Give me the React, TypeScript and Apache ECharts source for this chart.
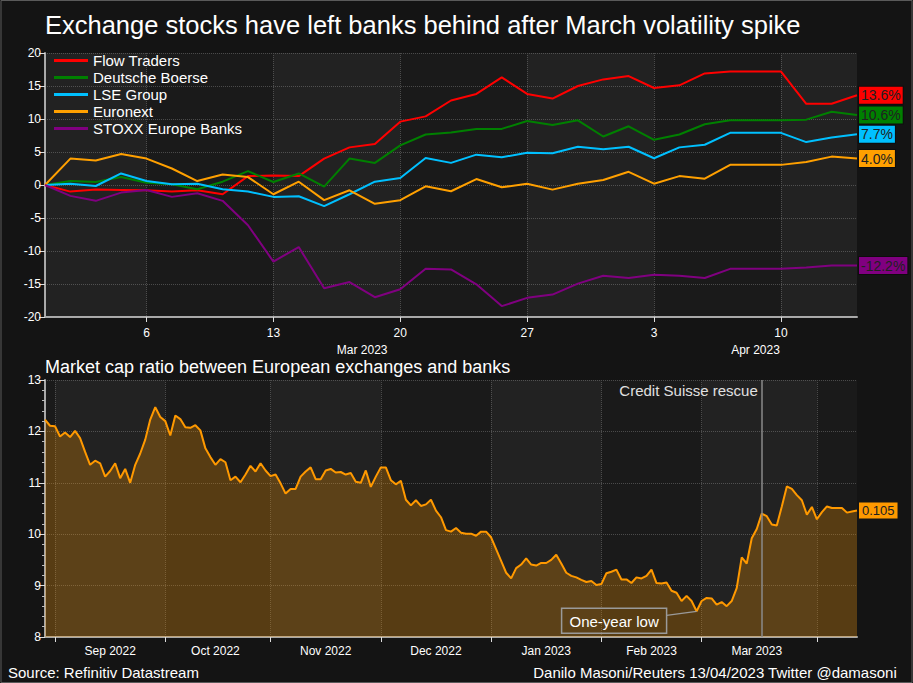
import React, { useEffect, useRef } from "react";
import * as echarts from "echarts";

const FONT = "'Liberation Sans', Arial, Helvetica, sans-serif";

function weekdays(start: string, end: string): string[] {
  const out: string[] = [];
  const d = new Date(start + "T00:00:00Z");
  const e = new Date(end + "T00:00:00Z");
  while (d <= e) {
    const wd = d.getUTCDay();
    if (wd !== 0 && wd !== 6) out.push(d.toISOString().slice(0, 10));
    d.setUTCDate(d.getUTCDate() + 1);
  }
  return out;
}

// ---------- top chart: % change since 28 Feb 2023 ----------
const topDates = weekdays("2023-02-28", "2023-04-13");
const seriesNames = ["Flow Traders", "Deutsche Boerse", "LSE Group", "Euronext", "STOXX Europe Banks"];
const seriesColors = ["#ff0000", "#008000", "#00c0ff", "#ffa000", "#800080"];
const flowTraders = [0, -1.0, -0.7, -0.75, -0.8, -1.0, -0.8, -1.4, 1.35, 1.45, 1.35, 4.0, 5.7, 6.2, 9.6, 10.4, 12.8, 13.8, 16.3, 13.8, 13.1, 15.0, 16.0, 16.5, 14.7, 15.1, 16.9, 17.2, 17.2, 17.2, 12.3, 12.3, 13.6];
const deutscheBoerse = [0, 0.6, 0.45, 1.2, 0.35, 0.1, -0.65, 0.5, 2.1, 0.45, 1.75, -0.25, 4.0, 3.35, 6.0, 7.65, 7.95, 8.5, 8.5, 9.7, 9.1, 9.8, 7.35, 8.9, 6.85, 7.65, 9.2, 9.8, 9.8, 9.8, 9.9, 11.1, 10.6];
const lseGroup = [0, 0.2, -0.15, 1.75, 0.6, 0.1, 0.2, -0.65, -1.0, -1.8, -1.7, -3.2, -1.4, 0.5, 1.05, 4.1, 3.35, 4.6, 4.2, 4.9, 4.8, 5.8, 5.4, 5.8, 4.05, 5.7, 6.1, 7.9, 7.9, 7.9, 6.5, 7.2, 7.7];
const euronext = [0, 4.0, 3.7, 4.7, 4.0, 2.5, 0.6, 1.6, 1.2, -1.4, 0.5, -2.3, -0.8, -2.85, -2.3, -0.2, -0.95, 0.9, -0.35, 0.2, -0.7, 0.2, 0.75, 2.0, 0.2, 1.35, 0.95, 3.05, 3.05, 3.05, 3.5, 4.3, 4.0];
const stoxxBanks = [0, -1.65, -2.4, -1.15, -0.75, -1.8, -1.25, -2.4, -6.1, -11.6, -9.4, -15.65, -14.7, -17.0, -15.8, -12.7, -12.8, -15.05, -18.35, -17.1, -16.6, -14.95, -13.75, -14.1, -13.6, -13.75, -14.1, -12.7, -12.7, -12.7, -12.5, -12.2, -12.2];
const seriesValues = [flowTraders, deutscheBoerse, lseGroup, euronext, stoxxBanks];
const topMonthLabels = [{ text: "Mar 2023", at: 12.5 }, { text: "Apr 2023", at: 28 }];

// ---------- bottom chart: market cap ratio ----------
const ratioDates = weekdays("2022-08-30", "2023-04-13");
const ratio = [
  12.23, 12.11, 12.1, 11.9, 11.98, 11.89, 12.01, 11.87, 11.6, 11.35,
  11.43, 11.38, 11.12, 11.23, 11.38, 11.09, 11.27, 11.0, 11.35, 11.57,
  11.84, 12.23, 12.47, 12.28, 12.2, 11.92, 12.31, 12.24, 12.08, 12.07,
  12.12, 12.02, 11.67, 11.5, 11.35, 11.46, 11.4, 11.05, 11.12, 11.01,
  11.16, 11.33, 11.22, 11.38, 11.24, 11.13, 11.16, 10.99, 10.79, 10.88,
  10.88, 11.12, 11.22, 11.3, 11.07, 11.07, 11.24, 11.27, 11.2, 11.21,
  11.16, 11.19, 11.02, 11.0, 11.24, 10.92, 11.12, 11.3, 11.3, 11.05,
  10.97, 11.04, 10.67, 10.56, 10.66, 10.55, 10.58, 10.67, 10.46, 10.33,
  10.08, 10.05, 10.12, 10.03, 10.01, 10.01, 9.97, 10.05, 10.05, 9.94,
  9.71, 9.48, 9.25, 9.14, 9.34, 9.41, 9.53, 9.41, 9.39, 9.44,
  9.44, 9.5, 9.6, 9.43, 9.25, 9.19, 9.16, 9.11, 9.07, 9.09,
  9.01, 9.03, 9.24, 9.27, 9.31, 9.12, 9.12, 9.05, 9.16, 9.14,
  9.19, 9.31, 9.05, 9.04, 9.06, 8.9, 8.86, 8.7, 8.8, 8.7,
  8.5, 8.7, 8.76, 8.75, 8.63, 8.68, 8.6, 8.7, 8.95, 9.55,
  9.43, 9.92, 10.1, 10.4, 10.35, 10.19, 10.17, 10.54, 10.93, 10.88,
  10.76, 10.66, 10.38, 10.53, 10.29, 10.43, 10.54, 10.51, 10.51, 10.51,
  10.42, 10.44, 10.46,
];
const creditSuisseDate = "2023-03-17";
const oneYearLowDate = "2023-02-28";

const MON = ["Jan", "Feb", "Mar", "Apr", "May", "Jun", "Jul", "Aug", "Sep", "Oct", "Nov", "Dec"];

const isMonday = (v: string) => new Date(v + "T00:00:00Z").getUTCDay() === 1;

// month boundaries on the bottom axis
const monthStarts: number[] = [];
ratioDates.forEach((d, i) => {
  if (i > 0 && d.slice(0, 7) !== ratioDates[i - 1].slice(0, 7)) monthStarts.push(i);
});
const monthStartSet = new Set(monthStarts);
const monthMidSet = new Set<number>();
for (let k = 0; k < monthStarts.length - 1; k++) {
  monthMidSet.add(Math.round((monthStarts[k] + monthStarts[k + 1] - 1) / 2));
}

const GRID_LINE = { color: "#4a4a4a", type: "dotted" as const, width: 1 };
const AXIS_LINE = { color: "#a8a8a8", width: 2 };
const LABEL = { color: "#ffffff", fontSize: 12, fontFamily: FONT };

export default function App() {
  const ref = useRef<HTMLDivElement>(null);

  useEffect(() => {
    document.body.style.margin = "0";
    if (!ref.current) return;
    const chart = echarts.init(ref.current, undefined, { renderer: "svg" });

    const topBands: any[] = [];
    const mondays = topDates.map((d, i) => (isMonday(d) ? i : -1)).filter((i) => i >= 0);
    const topEdges = [0, ...mondays, topDates.length - 1];
    for (let k = 0; k < topEdges.length - 1; k += 2) {
      topBands.push([{ xAxis: topDates[topEdges[k]] }, { xAxis: topDates[topEdges[k + 1]] }]);
    }
    const botBands: any[] = [];
    const botEdges = [...monthStarts, ratioDates.length - 1];
    for (let k = 0; k < botEdges.length - 1; k += 2) {
      botBands.push([{ xAxis: ratioDates[botEdges[k]] }, { xAxis: ratioDates[botEdges[k + 1]] }]);
    }

    const topSeries = seriesNames.map((name, s) => ({
      name,
      type: "line",
      xAxisIndex: 0,
      yAxisIndex: 0,
      data: seriesValues[s],
      symbol: "none",
      z: 3 + s,
      lineStyle: { color: seriesColors[s], width: 2 },
      itemStyle: { color: seriesColors[s] },
      endLabel: {
        show: true,
        formatter: (p: any) => {
          const v = Array.isArray(p.value) ? p.value[1] : p.value;
          return v.toFixed(1) + "%";
        },
        color: "#202020",
        backgroundColor: seriesColors[s],
        borderColor: "rgba(0,0,0,0.35)",
        borderWidth: 1,
        padding: [2, 2, 1, 2],
        fontSize: 14,
        fontFamily: FONT,
        distance: 2,
      },
      ...(s === 0
        ? {
            markArea: {
              silent: true,
              itemStyle: { color: "rgba(255,255,255,0.04)" },
              data: topBands,
            },
          }
        : {}),
    }));

    const option: any = {
      animation: false,
      backgroundColor: "#141414",
      textStyle: { fontFamily: FONT },
      title: [
        {
          text: "Exchange stocks have left banks behind after March volatility spike",
          left: 45,
          top: 12,
          padding: 0,
          textStyle: { color: "#ffffff", fontSize: 25.5, fontWeight: "normal", fontFamily: FONT },
        },
        {
          text: "Market cap ratio between European exchanges and banks",
          left: 45,
          top: 358,
          padding: 0,
          textStyle: { color: "#ffffff", fontSize: 18, fontWeight: "normal", fontFamily: FONT },
        },
      ],
      legend: {
        orient: "vertical",
        left: 54,
        top: 53,
        padding: 0,
        itemGap: 2,
        itemWidth: 34,
        itemHeight: 3,
        icon: "rect",
        selectedMode: false,
        data: seriesNames,
        textStyle: { color: "#ffffff", fontSize: 15, fontFamily: FONT },
      },
      grid: [
        { left: 45, right: 56, top: 53, bottom: 366, show: true, backgroundColor: "#1a1a1a", borderWidth: 0 },
        { left: 45, right: 56, top: 380, bottom: 46, show: true, backgroundColor: "#1a1a1a", borderWidth: 0 },
      ],
      xAxis: [
        {
          type: "category",
          gridIndex: 0,
          data: topDates,
          boundaryGap: false,
          axisLine: { onZero: false, lineStyle: AXIS_LINE },
          axisTick: { interval: (_i: number, v: string) => isMonday(v), length: 5, lineStyle: { color: "#dddddd" } },
          axisLabel: {
            ...LABEL,
            margin: 10,
            interval: (_i: number, v: string) => isMonday(v),
            formatter: (v: string) => String(parseInt(v.slice(8), 10)),
          },
          splitLine: { show: true, interval: (_i: number, v: string) => isMonday(v), lineStyle: GRID_LINE },
        },
        {
          type: "category",
          gridIndex: 1,
          data: ratioDates,
          boundaryGap: false,
          axisLine: { onZero: false, lineStyle: AXIS_LINE },
          axisTick: { interval: (i: number) => monthStartSet.has(i), length: 5, lineStyle: { color: "#dddddd" } },
          axisLabel: {
            ...LABEL,
            margin: 8,
            interval: (i: number) => monthMidSet.has(i),
            formatter: (v: string) => MON[parseInt(v.slice(5, 7), 10) - 1] + " " + v.slice(0, 4),
          },
          splitLine: { show: true, interval: (i: number) => monthStartSet.has(i), lineStyle: GRID_LINE },
        },
      ],
      yAxis: [
        {
          type: "value",
          gridIndex: 0,
          min: -20,
          max: 20,
          interval: 5,
          axisLine: { show: true, onZero: false, lineStyle: AXIS_LINE },
          axisTick: { show: true, length: 6, lineStyle: { color: "#dddddd" } },
          axisLabel: { ...LABEL, margin: 4 },
          splitLine: { show: true, lineStyle: GRID_LINE },
        },
        {
          type: "value",
          gridIndex: 1,
          min: 8,
          max: 13,
          interval: 1,
          axisLine: { show: true, onZero: false, lineStyle: AXIS_LINE },
          axisTick: { show: true, length: 6, lineStyle: { color: "#dddddd" } },
          minorTick: { show: true, splitNumber: 5, length: 3, lineStyle: { color: "#bbbbbb" } },
          axisLabel: { ...LABEL, margin: 4 },
          splitLine: { show: true, lineStyle: GRID_LINE },
        },
      ],
      series: [
        ...topSeries,
        {
          name: "Market cap ratio",
          type: "line",
          xAxisIndex: 1,
          yAxisIndex: 1,
          data: ratio,
          symbol: "none",
          z: 3,
          lineStyle: { color: "#ff9900", width: 2 },
          itemStyle: { color: "#ff9900" },
          areaStyle: { color: "rgba(255,153,0,0.38)" },
          endLabel: {
            show: true,
            formatter: (p: any) => {
              const v = Array.isArray(p.value) ? p.value[1] : p.value;
              return (v / 100).toFixed(3);
            },
            color: "#202020",
            backgroundColor: "#ff9900",
            padding: [2, 3, 1, 3],
            fontSize: 13,
            fontFamily: FONT,
            distance: 2,
          },
          markArea: {
            silent: true,
            itemStyle: { color: "rgba(255,255,255,0.04)" },
            data: botBands,
          },
          markLine: {
            silent: true,
            symbol: ["none", "none"],
            label: { show: false },
            lineStyle: { color: "#8a8a8a", width: 1.5, type: "solid" },
            data: [{ xAxis: creditSuisseDate }],
          },
        },
      ],
    };

    chart.setOption(option);

    // annotations positioned through the chart's own scales
    const tx = (i: number) => {
      const a = chart.convertToPixel({ xAxisIndex: 0 }, Math.floor(i)) as number;
      const b = chart.convertToPixel({ xAxisIndex: 0 }, Math.ceil(i)) as number;
      return a + (b - a) * (i - Math.floor(i));
    };
    const csX = chart.convertToPixel({ xAxisIndex: 1 }, creditSuisseDate) as number;
    const lowIdx = ratioDates.indexOf(oneYearLowDate);
    const lowPt = chart.convertToPixel({ xAxisIndex: 1, yAxisIndex: 1 } as any, [lowIdx, ratio[lowIdx]]) as number[];
    const plotTop = chart.convertToPixel({ yAxisIndex: 1 }, 13) as number;

    const graphic: any[] = [
      ...topMonthLabels.map((m) => ({
        type: "text",
        x: tx(m.at),
        y: 350,
        silent: true,
        style: { text: m.text, fill: "#ffffff", font: `12px ${FONT}`, align: "center", verticalAlign: "middle" },
      })),
      {
        type: "text",
        x: csX - 4,
        y: plotTop + 10,
        silent: true,
        style: { text: "Credit Suisse rescue", fill: "#e0e0e0", font: `15px ${FONT}`, align: "right", verticalAlign: "middle" },
      },
      {
        type: "rect",
        silent: true,
        shape: { x: lowPt[0] - 135, y: lowPt[1] - 3, width: 105, height: 25 },
        style: { fill: "none", stroke: "#9a9a9a", lineWidth: 1.5 },
        z: 10,
      },
      {
        type: "text",
        silent: true,
        x: lowPt[0] - 82.5,
        y: lowPt[1] + 10,
        style: { text: "One-year low", fill: "#ffffff", font: `15px ${FONT}`, align: "center", verticalAlign: "middle" },
        z: 10,
      },
      {
        type: "line",
        silent: true,
        shape: { x1: lowPt[0] - 30, y1: lowPt[1] + 4, x2: lowPt[0], y2: lowPt[1] },
        style: { stroke: "#9a9a9a", lineWidth: 1.2 },
        z: 10,
      },
      {
        type: "text",
        left: 8,
        top: 665,
        silent: true,
        style: { text: "Source: Refinitiv Datastream", fill: "#ffffff", font: `15px ${FONT}` },
      },
      {
        type: "text",
        right: 16,
        top: 665,
        silent: true,
        style: { text: "Danilo Masoni/Reuters 13/04/2023 Twitter @damasoni", fill: "#ffffff", font: `15px ${FONT}` },
      },
      {
        type: "rect",
        silent: true,
        shape: { x: 1, y: 0.5, width: 911, height: 682 },
        style: { fill: "none", stroke: "#5a5a5a", lineWidth: 1 },
        z: 20,
      },
    ];
    chart.setOption({ graphic });

    return () => chart.dispose();
  }, []);

  return <div ref={ref} style={{ width: 913, height: 683, position: "absolute", left: 0, top: 0 }} />;
}
